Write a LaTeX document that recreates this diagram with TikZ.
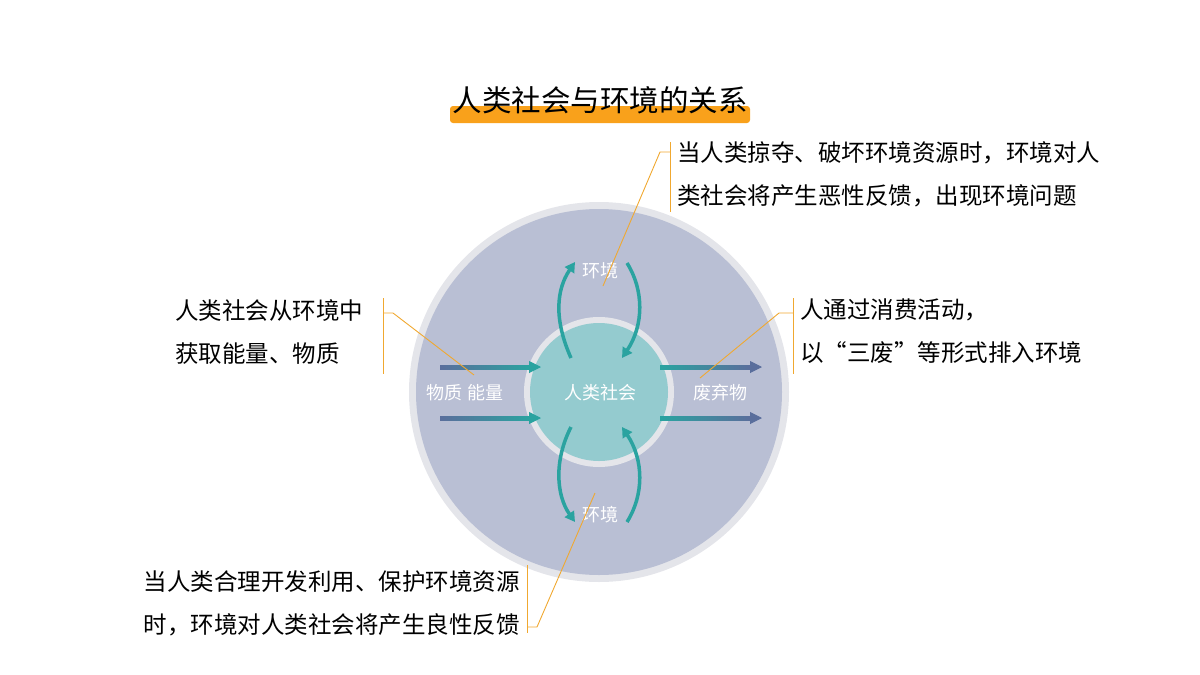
\documentclass[tikz,border=0pt]{standalone}
\usepackage{fontspec}
\setmainfont{Noto Sans CJK SC}
\usetikzlibrary{arrows.meta}
\definecolor{ringfill}{HTML}{B9BFD4}
\definecolor{ringedge}{HTML}{E4E5EA}
\definecolor{corefill}{HTML}{94CBCF}
\definecolor{navy}{HTML}{5A6E9C}
\definecolor{teal}{HTML}{2AA3A0}
\definecolor{callout}{HTML}{F0A830}
\definecolor{titlebar}{HTML}{F9A11B}
\tikzset{
  flow/.style={line width=3.5pt, -{Triangle[length=10pt,width=11pt]}},
  head/.style={-{Triangle[length=12pt,width=12pt]}, line width=1pt},
  lead/.style={callout, line width=0.9pt},
  note/.style={font=\fontsize{23.5}{43}\selectfont, align=left, anchor=north west, inner sep=0pt},
  inlabel/.style={white, font=\fontsize{18}{20}\selectfont}
}
\begin{document}
\begin{tikzpicture}[x=1pt,y=-1pt]
    \useasboundingbox (0,0) rectangle (1200,675);
    % Title
    \fill[titlebar, rounded corners=3pt] (450,106) rectangle (750,123);
    \node[font=\fontsize{29.5}{32}\selectfont] (title) at (600,100) {人类社会与环境的关系};

    % Rings
    \fill[ringedge] (599,392) circle (190);
    \fill[ringfill] (599,392) circle (183);
    \fill[ringedge] (599,392) circle (75);
    \fill[corefill] (599,392) circle (69);

    % Flows in and out
    \foreach \y in {367,418} {
      \shade[left color=navy, right color=teal] (440,\y-2) rectangle (530,\y+2);
      \draw[head, teal] (527,\y) -- (541,\y);
      \shade[left color=teal, right color=navy] (660,\y-2) rectangle (750,\y+2);
      \draw[head, navy] (748,\y) -- (762,\y);
    }

    % Exchange with environment
    \draw[flow, teal] (571,358) .. controls (554,320) and (556,290) .. (575,262);
    \draw[flow, teal] (627,263) .. controls (644,290) and (644,325) .. (622,358);
    \draw[flow, teal] (571,427) .. controls (554,460) and (556,495) .. (575,522);
    \draw[flow, teal] (627,522) .. controls (644,495) and (644,460) .. (622,427);

    % Inner labels
    \node[inlabel] (envtop) at (600,271) {环境};
    \node[inlabel] (envbot) at (600,515) {环境};
    \node[inlabel] (gain) at (465,393) {物质 能量};
    \node[inlabel] (society) at (600,393) {人类社会};
    \node[inlabel] (waste) at (720,393) {废弃物};

    % Callouts
    \node[note] (harm) at (677,141) {当人类掠夺、破坏环境资源时，环境对人\\类社会将产生恶性反馈，出现环境问题};
    \draw[lead] (670,142) -- (670,212);
    \draw[lead] (670,152) -- (660,152) -- (603,286);
    \node[note] (take) at (175,299) {人类社会从环境中\\获取能量、物质};
    \draw[lead] (383,298) -- (383,374);
    \draw[lead] (383,313) -- (393,313) -- (474,375);
    \node[note] (emit) at (800,299) {人通过消费活动，\\以“三废”等形式排入环境};
    \draw[lead] (793,298) -- (793,374);
    \draw[lead] (793,313) -- (779,313) -- (700,378);
    \node[note, align=right, anchor=north east] (good) at (520,570) {当人类合理开发利用、保护环境资源\\时，环境对人类社会将产生良性反馈};
    \draw[lead] (527,565) -- (527,633);
    \draw[lead] (527,627) -- (537,627) -- (595,493);
\end{tikzpicture}
\end{document}
